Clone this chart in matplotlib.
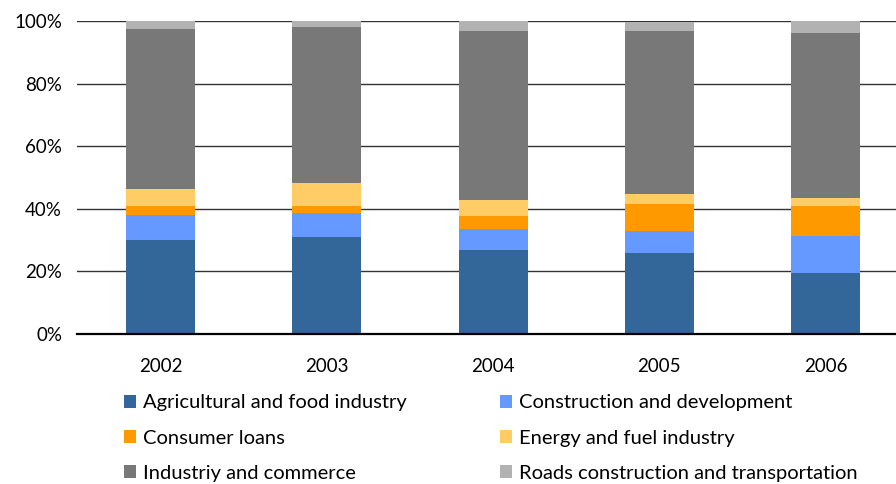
import matplotlib.pyplot as plt
from matplotlib.patches import Patch
import numpy as np

years = ["2002", "2003", "2004", "2005", "2006"]

agri = [30.1, 31.0, 26.9, 25.9, 19.5]
construction = [8.0, 7.7, 6.7, 7.0, 11.8]
consumer = [2.9, 2.2, 4.2, 8.6, 9.6]
energy = [5.4, 7.4, 5.1, 3.2, 2.6]
industry = [51.2, 49.9, 54.0, 52.1, 52.8]
roads = [2.4, 1.8, 3.1, 3.1, 3.7]

series = [agri, construction, consumer, energy, industry, roads]
labels = [
    "Agricultural and food industry",
    "Construction and development",
    "Consumer loans",
    "Energy and fuel industry",
    "Industriy and commerce",
    "Roads construction and transportation",
]
colors = ["#336699", "#6699FF", "#FF9900", "#FFCC66", "#787878", "#B2B2B2"]

plt.rcParams["font.family"] = ["Lato", "DejaVu Sans"]

fig = plt.figure(figsize=(8.96, 4.84), dpi=100)
ax = fig.add_axes([0.0863, 0.3099, 0.928, 0.6461])

x = np.arange(len(years))
bottom = np.zeros(len(years))
for vals, col in zip(series, colors):
    ax.bar(x, vals, width=0.415, bottom=bottom, color=col, zorder=3)
    bottom += np.array(vals)

ax.set_xlim(-0.5, len(years) - 0.5)
ax.set_ylim(0, 100)
ax.set_yticks([0, 20, 40, 60, 80, 100])
ax.set_yticklabels(["0%", "20%", "40%", "60%", "80%", "100%"])
ax.set_xticks(x)
ax.set_xticklabels(years)
ax.tick_params(axis="y", length=0, pad=11, labelsize=13.5, colors="black")
ax.tick_params(axis="x", length=0, pad=17, labelsize=13.5, colors="black")

ax.yaxis.grid(True, color="#333333", linewidth=1.0, zorder=0)
ax.set_axisbelow(True)
for side in ["left", "right", "top"]:
    ax.spines[side].set_visible(False)
ax.spines["bottom"].set_linewidth(1.6)
ax.spines["bottom"].set_color("black")
ax.spines["bottom"].set_zorder(4)

handles = [Patch(facecolor=c, edgecolor="none") for c in colors]

# legend in two columns, placed separately
for col_idx, xpos in [(0, 0.1384), (1, 0.558)]:
    idx = [col_idx, col_idx + 2, col_idx + 4]
    fig.legend(
        [handles[i] for i in idx],
        [labels[i] for i in idx],
        loc="upper left",
        bbox_to_anchor=(xpos, 0.185),
        frameon=False,
        fontsize=14.5,
        handlelength=0.6,
        handleheight=0.6,
        handletextpad=0.35,
        labelspacing=0.9,
        borderaxespad=0,
        borderpad=0,
    )

fig.savefig("out.png", dpi=100)
